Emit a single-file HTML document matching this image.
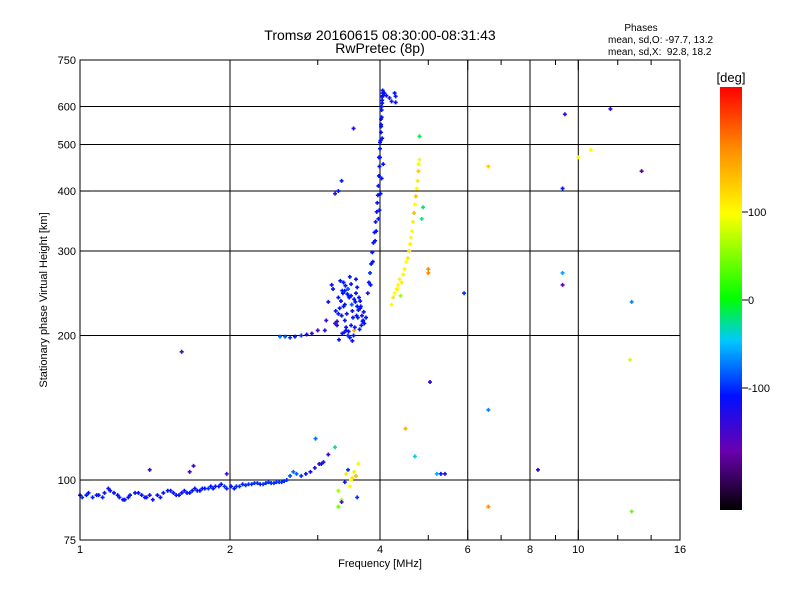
<!DOCTYPE html>
<html><head><meta charset="utf-8"><style>
body{margin:0;background:#fff;}
svg{display:block;font-family:"Liberation Sans",sans-serif;}
</style></head><body>
<svg id="chart" width="800" height="600" viewBox="0 0 800 600">
<defs><linearGradient id="cb" x1="0" y1="1" x2="0" y2="0">
<stop offset="0" stop-color="#000000"/><stop offset="0.14" stop-color="#6a00b0"/><stop offset="0.27" stop-color="#0010ff"/>
<stop offset="0.4" stop-color="#00c8ff"/><stop offset="0.5" stop-color="#00ff00"/><stop offset="0.7" stop-color="#ffff00"/>
<stop offset="0.85" stop-color="#ff9000"/><stop offset="1" stop-color="#ff0000"/></linearGradient></defs>
<text x="380" y="40" font-size="14" text-anchor="middle">Tromsø 20160615 08:30:00-08:31:43</text>
<text x="380" y="53" font-size="14" text-anchor="middle">RwPretec (8p)</text>
<text x="641" y="31" font-size="10" text-anchor="middle">Phases</text>
<text x="608" y="43" font-size="10">mean, sd,O: -97.7, 13.2</text>
<text x="608" y="55" font-size="10" xml:space="preserve">mean, sd,X:  92.8, 18.2</text>
<g id="grid"></g>
<g id="pts"></g>
<rect x="80" y="60" width="600" height="480" fill="none" stroke="#000"/>
<g id="ticks"></g>
<text x="380" y="567" font-size="11" text-anchor="middle">Frequency [MHz]</text>
<text transform="translate(47,300) rotate(-90)" font-size="11" text-anchor="middle">Stationary phase Virtual Height [km]</text>
<rect x="720" y="87" width="22" height="423" fill="url(#cb)"/>
<text x="731" y="82" font-size="13" text-anchor="middle">[deg]</text>
<g id="cbt"></g>
</svg>
<script>
const xTicks=[1,2,4,6,8,10,16];
const xGrid=[2,4,6,8,10];
const xMinor=[3,5,7,9,12,14];
const yTicks=[75,100,200,300,400,500,600,750];
const yGrid=[100,200,300,400,500,600];
const cbTicks=[100,0,-100];
const freq=[1.00,1.03,1.06,1.09,1.12,1.14,1.17,1.20,1.23,1.26,1.29,1.33,1.36,1.40,1.43,1.47,1.50,1.54,1.58,1.62,1.66,1.70,1.74,1.78,1.83,1.87,1.92,1.97,2.01,2.06,2.12,2.18,2.24,2.30,2.36,2.42,2.48,2.54,2.60,2.64,2.68,2.72,2.78,2.84,2.90,2.96,3.02,3.08,
1.01,1.04,1.08,1.11,1.15,1.19,1.22,1.25,1.31,1.35,1.38,1.45,1.52,1.56,1.60,1.64,1.68,1.72,1.76,1.81,1.85,1.90,1.95,2.04,2.09,2.15,2.21,2.27,2.33,2.39,2.45,2.51,2.57,
1.38,1.69,1.66,1.97,2.97,3.05,3.15,3.25,3.3,3.35,3.42,3.48,3.52,3.55,3.58,3.62,3.45,3.4,3.5,3.6,3.3,3.35,
2.52,2.58,2.64,2.70,2.78,2.85,2.92,3.0,
3.1,3.12,3.15,3.2,3.22,3.26,3.28,3.3,3.33,3.36,3.38,3.4,3.42,3.45,3.48,3.5,3.52,3.55,3.58,3.6,3.63,3.65,3.68,3.7,3.72,3.75,3.3,3.4,3.5,3.6,3.45,3.55,3.38,3.48,3.58,3.65,3.25,3.35,3.42,3.52,
3.32,3.37,3.43,3.47,3.53,3.57,3.62,3.67,3.71,3.28,3.34,3.4,3.46,3.51,3.56,3.61,3.66,3.44,3.5,3.39,3.31,3.36,3.41,3.46,3.54,3.59,3.64,3.69,
3.78,3.80,3.82,3.84,3.86,3.88,3.90,3.92,3.94,3.95,3.96,3.97,3.98,3.99,4.0,4.0,4.01,4.02,4.02,4.03,4.03,4.04,4.04,4.05,4.05,4.05,4.04,4.03,4.02,4.02,
3.83,3.87,3.91,3.93,3.97,3.99,4.01,4.03,4.06,4.0,3.98,4.04,
4.08,4.12,4.18,4.22,4.28,4.3,4.3,
4.22,4.25,4.28,4.32,4.35,4.38,4.42,4.45,4.48,4.52,4.55,4.58,4.6,4.62,4.64,4.66,4.68,4.7,4.72,4.74,4.76,4.78,4.78,4.8,4.34,4.4,
3.54,3.35,3.3,3.25,1.6,5.0,5.0,4.88,4.85,4.8,6.6,5.9,6.6,5.04,4.5,4.7,5.2,5.3,5.4,8.3,6.6,9.4,11.6,9.3,9.3,9.3,10.0,10.6,13.4,12.8,12.7,12.8];
const height=[93,93,92,93,94,96,94,92,91,93,94,93,92,91,93,94,95,94,93,95,94,96,95,96,97,97,98,96,97,97,98,98,98.5,98,98.5,98.5,99,99,100,102,104,103,102,103,104,106,108,109,
92,94,93,92,95,93,91,92,94,92,93,92,95,93,94,94,95,95,96,96,96,97,97,96,97,97.5,98,98.5,98,99,98.5,99,99.5,
105,107,104,103,122,108,113,117,95,91,103,97,101,104,102,108,105,99,100,92,88,90,
199,199,198,199,200,201,202,205,
205,215,235,255,250,225,210,240,260,248,230,215,205,200,198,210,225,238,245,252,240,228,220,215,212,218,222,232,242,230,250,205,258,265,262,236,212,220,208,195,
228,245,222,240,218,235,226,210,224,214,236,248,204,232,208,218,230,244,256,203,196,202,254,242,200,220,206,214,
245,258,270,282,298,312,328,345,362,378,392,410,430,450,470,490,510,530,550,570,590,610,628,640,648,632,618,600,565,545,
255,285,315,330,350,365,395,425,455,505,470,515,
640,632,625,615,640,630,612,
232,240,245,250,255,262,258,268,275,285,290,300,310,320,330,345,360,375,390,405,420,440,455,465,250,242,
540,420,400,395,185,275,270,370,350,520,450,245,140,160,128,112,103,103,103,105,88,578,593,405,270,255,470,487,440,235,178,86];
const phase=[-110,-110,-105,-110,-115,-120,-110,-105,-110,-110,-115,-110,-110,-120,-110,-110,-110,-115,-110,-110,-110,-120,-110,-110,-110,-110,-110,-105,-110,-100,-105,-100,-100,-105,-100,-100,-100,-100,-100,-90,-80,-85,-100,-110,-120,-130,-140,-130,
-100,-110,-110,-105,-110,-110,-110,-110,-110,-120,-130,-110,-110,-110,-120,-110,-110,-110,-110,-100,-110,-110,-100,-110,-100,-100,-100,-100,-100,-100,-100,-100,-100,
-150,-150,-150,-150,-80,-120,-140,-30,60,70,110,100,115,105,140,90,-100,-120,100,-100,40,-150,
-80,-90,-100,-110,-100,-120,-140,-150,
-140,-150,-120,-110,-110,-110,-120,-110,-110,-110,-120,-110,-110,-100,-110,-110,-120,-110,-110,-110,-110,-110,-120,-110,-110,-110,-110,-110,-110,-110,-90,150,-110,-110,-110,-110,-150,-110,-110,-110,
-110,-110,-120,-110,-110,-110,-110,-110,-110,-140,-110,-110,-110,-90,-110,-110,-110,-110,-110,-130,-110,-110,-110,-110,-110,-110,-110,-110,
-110,-110,-100,-110,-110,-110,-110,-110,-120,-110,-110,-110,-110,-110,-110,-110,-110,-110,-110,-110,-110,-110,-110,-110,-110,-110,-120,-110,-110,-110,
-110,-110,-110,-110,-110,-110,-110,-110,-110,-110,-110,-110,
-110,-110,-130,-110,-110,-120,-110,
100,110,95,100,100,105,110,100,100,100,110,120,105,100,100,110,140,100,140,100,110,130,90,100,100,60,
-130,-110,-110,-130,-150,170,170,-20,-20,-10,130,-100,-70,-130,150,-40,-60,-110,-130,-130,170,-130,-130,-110,-60,-170,90,95,-180,-70,80,40];

const X=f=>80+150*Math.log2(f);
const Y=h=>540-480*Math.log10(h/75);
const NS="http://www.w3.org/2000/svg";
function mk(tag,attrs,parent){const e=document.createElementNS(NS,tag);for(const k in attrs)e.setAttribute(k,attrs[k]);parent.appendChild(e);return e;}
const stops=[[0,[0,0,0]],[0.14,[106,0,176]],[0.27,[0,16,255]],[0.4,[0,200,255]],[0.5,[0,255,0]],[0.7,[255,255,0]],[0.85,[255,144,0]],[1,[255,0,0]]];
function col(v){let t=(v+240)/480;t=Math.max(0,Math.min(1,t));for(let i=1;i<stops.length;i++){if(t<=stops[i][0]){const a=stops[i-1],b=stops[i];const u=(t-a[0])/(b[0]-a[0]);const c=a[1].map((q,j)=>Math.round(q+(b[1][j]-q)*u));return `rgb(${c})`;}}return 'rgb(255,0,0)';}
const grid=document.getElementById('grid');
xGrid.forEach(f=>{const l=mk('line',{x1:X(f),x2:X(f),y1:60,y2:540,stroke:'#000','stroke-width':1},grid);

});
yGrid.forEach(h=>{const l=mk('line',{x1:80,x2:680,y1:Y(h),y2:Y(h),stroke:'#000','stroke-width':1},grid);

});
const tk=document.getElementById('ticks');
xTicks.forEach(f=>{const t=mk('text',{x:X(f),y:553,'font-size':11,'text-anchor':'middle'},tk);t.textContent=f;


mk('line',{x1:X(f),x2:X(f),y1:60,y2:70,stroke:'#000'},tk);mk('line',{x1:X(f),x2:X(f),y1:530,y2:540,stroke:'#000'},tk);});
xMinor.forEach(f=>{mk('line',{x1:X(f),x2:X(f),y1:60,y2:65,stroke:'#000'},tk);mk('line',{x1:X(f),x2:X(f),y1:535,y2:540,stroke:'#000'},tk);});
yTicks.forEach(h=>{const t=mk('text',{x:76,y:Y(h)+4,'font-size':11,'text-anchor':'end'},tk);t.textContent=h;


mk('line',{x1:80,x2:90,y1:Y(h),y2:Y(h),stroke:'#000'},tk);mk('line',{x1:670,x2:680,y1:Y(h),y2:Y(h),stroke:'#000'},tk);});
const cbt=document.getElementById('cbt');
cbTicks.forEach(v=>{const y=300-0.88*v;mk('line',{x1:742,x2:748,y1:y,y2:y,stroke:'#000'},cbt);
const t=mk('text',{x:748,y:y+4,'font-size':11},cbt);t.textContent=v;

});
const pts=document.getElementById('pts');
for(let i=0;i<freq.length;i++){const x=X(freq[i]),y=Y(height[i]);
const p=mk('path',{d:`M${x-2} ${y}h4M${x} ${y-2}v4`,stroke:col(phase[i]),'stroke-width':1.6,fill:'none'},pts);

}
</script>
</body></html>
